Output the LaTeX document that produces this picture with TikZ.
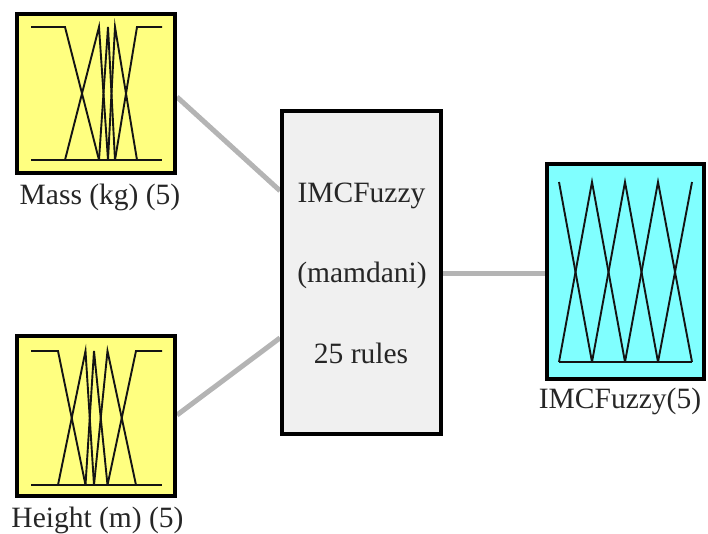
\documentclass[tikz,border=0pt]{standalone}
\usepackage{fontspec}
\setmainfont{Liberation Serif}
\newfontfamily\labelfont{Liberation Serif}
\usetikzlibrary{calc,backgrounds}

\definecolor{inyellow}{HTML}{FFFF80}
\definecolor{outcyan}{HTML}{80FFFF}
\definecolor{fisgray}{HTML}{F0F0F0}
\definecolor{wiregray}{HTML}{B4B4B4}
\definecolor{mfline}{HTML}{141414}

\tikzset{
  varbox/.style={draw=black, line width=4pt, rectangle, inner sep=0pt},
  wire/.style={draw=wiregray, line width=5pt},
  mf/.style={draw=mfline, line width=1.9pt, line join=miter},
  lbl/.style={anchor=base, inner sep=0pt, text=black!85, font=\labelfont\fontsize{29.5}{34}\selectfont},
}

\begin{document}
\begin{tikzpicture}[x=1pt, y=-1pt]
  \useasboundingbox (0,0) rectangle (708,533);

  % blocks: two inputs, the rule system, one output
  \node[varbox, fill=inyellow, minimum width=158pt, minimum height=159pt] (mass) at (96,93.5) {};
  \node[varbox, fill=inyellow, minimum width=158pt, minimum height=160pt] (height) at (96,416) {};
  \node[varbox, fill=fisgray, minimum width=159pt, minimum height=323pt] (fis) at (361.5,272.5) {};
  \node[varbox, fill=outcyan, minimum width=157pt, minimum height=215pt] (out) at (625.5,271.5) {};

  % connectors, kept behind the blocks
  \begin{scope}[on background layer]
    \draw[wire] ($(mass.east)+(0,3.5)$) -- ($(fis.north west)!0.25!(fis.south west)$);
    \draw[wire] ($(height.east)+(0,-1)$) -- ($(fis.north west)!0.70!(fis.south west)$);
    \draw[wire] ($(fis.east)+(0,0.5)$) -- ($(out.west)+(0,1.5)$);
  \end{scope}

  % membership functions of Mass
  \draw[mf] (31,160) -- (162,160);
  \draw[mf] (31,27) -- (65,27) -- (99,160);
  \draw[mf] (65,160) -- (99,27) -- (108,160);
  \draw[mf] (99,160) -- (108,27) -- (115,160);
  \draw[mf] (108,160) -- (115,27) -- (137,160);
  \draw[mf] (115,160) -- (137,27) -- (162,27);

  % membership functions of Height
  \draw[mf] (31,485) -- (162,485);
  \draw[mf] (31,351) -- (58,351) -- (85.5,485);
  \draw[mf] (58,485) -- (85.5,351) -- (94,485);
  \draw[mf] (85.5,485) -- (94,351) -- (107.5,485);
  \draw[mf] (94,485) -- (107.5,351) -- (136,485);
  \draw[mf] (107.5,485) -- (136,351) -- (162,351);

  % membership functions of the output
  \draw[mf] (559,362) -- (692,362);
  \draw[mf] (559,182) -- (592,362);
  \draw[mf] (559,362) -- (592,182) -- (625,362);
  \draw[mf] (592,362) -- (625,182) -- (658,362);
  \draw[mf] (625,362) -- (658,182) -- (692,362);
  \draw[mf] (658,362) -- (692,182);

  % labels
  \node[lbl] (massl) at (100,204) {Mass (kg) (5)};
  \node[lbl] (heightl) at (97.5,527) {Height (m) (5)};
  \node[lbl] (outl) at (620,408) {IMCFuzzy(5)};
  \node[lbl] (fis1) at (361.5,202) {IMCFuzzy};
  \node[lbl] (fis2) at (362,282) {(mamdani)};
  \node[lbl] (fis3) at (361,363) {25 rules};
\end{tikzpicture}
\end{document}
